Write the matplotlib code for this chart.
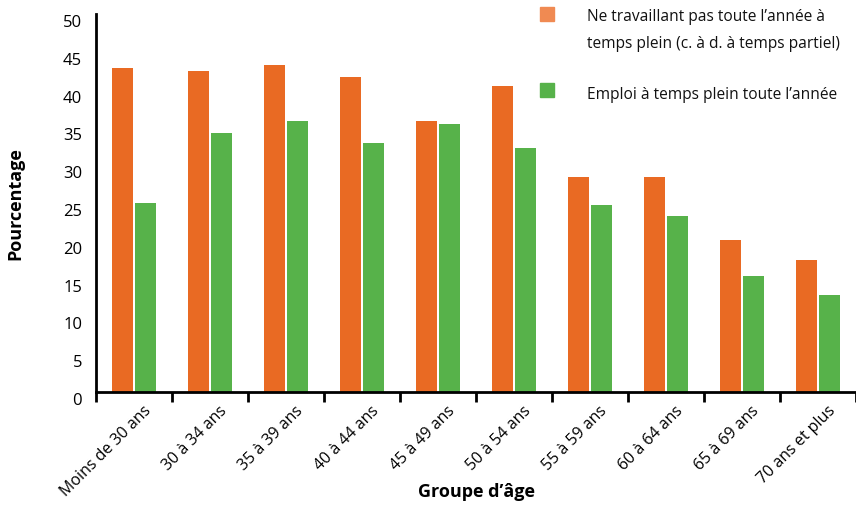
import numpy as np
import matplotlib.pyplot as plt
from matplotlib.patches import Rectangle
from matplotlib.transforms import ScaledTranslation

# Age groups and the two employment series (percent)
groupes = ["Moins de 30 ans", "30 à 34 ans", "35 à 39 ans", "40 à 44 ans",
           "45 à 49 ans", "50 à 54 ans", "55 à 59 ans", "60 à 64 ans",
           "65 à 69 ans", "70 ans et plus"]
temps_partiel = [42.9, 42.4, 43.3, 41.7, 35.9, 40.5, 28.5, 28.5, 20.1, 17.4]
temps_plein = [25.0, 34.3, 35.8, 33.0, 35.4, 32.3, 24.8, 23.3, 15.4, 12.8]
noms_series = ["Ne travaillant pas toute l\u2019année à\ntemps plein (c. à d. à temps partiel)",
               "Emploi à temps plein toute l\u2019année"]

orange = "#E96A23"
orange_leg = "#F08A52"
vert = "#57B24A"

plt.rcParams['font.family'] = ['Open Sans', 'DejaVu Sans']
plt.rcParams['text.color'] = '#111111'

fig = plt.figure(figsize=(8.56, 5.10), dpi=100)
ax = fig.add_axes([96 / 856, 1 - 393 / 510, 760 / 856, 378 / 510])

x = np.arange(len(groupes))
w = 0.276
ax.bar(x - 0.151, temps_partiel, width=w, color=orange)
ax.bar(x + 0.151, temps_plein, width=w, color=vert)

ax.set_xlim(-0.5, len(groupes) - 0.5)
ax.set_ylim(0, 50)
ax.set_yticks(range(0, 51, 5))
ax.tick_params(axis='y', length=0, pad=10, labelsize=12)
for lab in ax.get_yticklabels():
    lab.set_transform(lab.get_transform() + ScaledTranslation(0, -0.06, fig.dpi_scale_trans))

# labels at category centres, tick marks on the category boundaries
ax.set_xticks(x)
ax.set_xticklabels(groupes, rotation=45, ha='right', va='center',
                   rotation_mode='anchor', fontsize=11.5)
ax.tick_params(axis='x', which='major', length=0, pad=11)
for lab in ax.get_xticklabels():
    lab.set_transform(lab.get_transform() + ScaledTranslation(0.15, 0, fig.dpi_scale_trans))
ax.set_xticks(np.arange(-0.5, len(groupes), 1), minor=True)
ax.tick_params(axis='x', which='minor', length=7, width=2, direction='out')

for s in ['top', 'right']:
    ax.spines[s].set_visible(False)
for s in ['left', 'bottom']:
    ax.spines[s].set_linewidth(2)

ax.set_ylabel("Pourcentage", fontsize=13, fontweight='bold')
ax.yaxis.set_label_coords(-0.094, 0.5)
ax.set_xlabel("Groupe d\u2019âge", fontsize=13, fontweight='bold')
ax.xaxis.set_label_coords(0.5, -90 / 378)

# legend drawn by hand so the square sits on the first text line
legende = [(15, [21, 48], orange_leg, noms_series[0]),
           (91, [99], vert, noms_series[1])]
for yc, bases, col, nom in legende:
    fig.add_artist(Rectangle((540 / 856, 1 - (yc + 7) / 510), 14 / 856, 14 / 510,
                             transform=fig.transFigure, color=col))
    for yb, ligne in zip(bases, nom.split("\n")):
        fig.text(587 / 856, 1 - yb / 510, ligne, fontsize=11.2, va='baseline', ha='left')

fig.savefig("out.png", dpi=100)
